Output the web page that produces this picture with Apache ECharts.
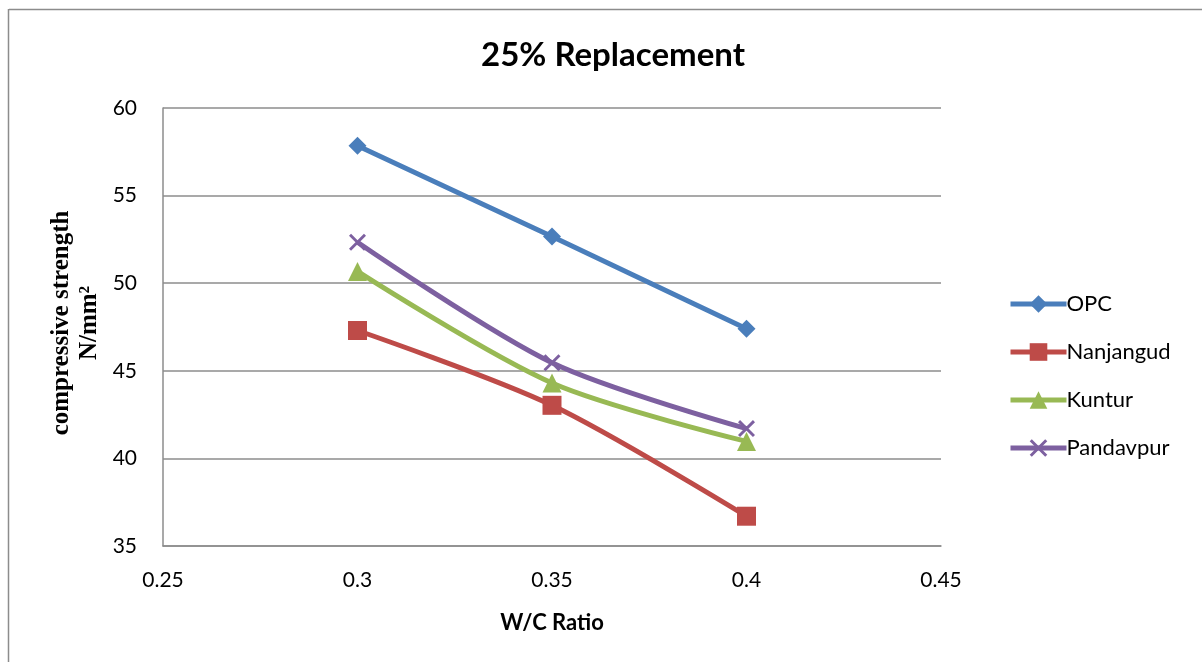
<!DOCTYPE html>
<html>
<head>
<meta charset="utf-8">
<script src="https://cdn.jsdelivr.net/npm/echarts@6/dist/echarts.min.js"></script>
<style>
  html, body { margin: 0; padding: 0; background: #fff; }
  #chart { width: 1202px; height: 662px; }
</style>
</head>
<body>
<div id="chart"></div>
<script>
// W/C ratios tested
const wcRatio = [0.3, 0.35, 0.4];
// Compressive strength (N/mm²) at 25% replacement
const opc = [57.85, 52.66, 47.4];
const nanjangud = [47.3, 43.03, 36.7];
const kuntur = [50.67, 44.3, 40.97];
const pandavpur = [52.34, 45.46, 41.7];
const seriesNames = ['OPC', 'Nanjangud', 'Kuntur', 'Pandavpur'];
const xTicks = { min: 0.25, max: 0.45, step: 0.05 };
const yTicks = { min: 35, max: 60, step: 5 };

const pairs = vals => wcRatio.map((x, i) => [x, vals[i]]);
const crossPath = 'path://M0,1.2L1.2,0L10,8.8L8.8,10Z M8.8,0L10,1.2L1.2,10L0,8.8Z';

const font = 'Lato, "Open Sans", sans-serif';

function line(name, vals, color, symbol, size) {
  return {
    name, type: 'line', data: pairs(vals), smooth: 0.3,
    symbol, symbolSize: size,
    lineStyle: { color, width: 5 },
    itemStyle: { color },
    z: 3
  };
}

const chart = echarts.init(document.getElementById('chart'));
chart.setOption({
  animation: false,
  backgroundColor: '#fff',
  title: {
    text: '25% Replacement',
    left: 608, top: 34, textAlign: 'center',
    textStyle: { fontFamily: font, fontWeight: 'bold', fontSize: 33, color: '#000' }
  },
  grid: { left: 163, right: 261, top: 108, bottom: 116 },
  xAxis: {
    type: 'value', min: xTicks.min, max: xTicks.max, interval: xTicks.step,
    name: 'W/C Ratio', nameLocation: 'middle', nameGap: 66,
    nameTextStyle: { fontFamily: font, fontWeight: 'bold', fontSize: 22, color: '#000' },
    axisLine: { lineStyle: { color: '#8c8c8c', width: 1.5 } },
    axisTick: { show: false },
    splitLine: { show: false },
    axisLabel: { fontFamily: font, fontSize: 21, color: '#000', margin: 24,
      formatter: v => String(parseFloat(v.toFixed(2))) }
  },
  yAxis: {
    type: 'value', min: yTicks.min, max: yTicks.max, interval: yTicks.step,
    axisLine: { show: true, lineStyle: { color: '#8c8c8c', width: 1.5 } },
    axisTick: { show: false },
    splitLine: { lineStyle: { color: '#8c8c8c', width: 1.5 } },
    axisLabel: { fontFamily: font, fontSize: 21, color: '#000', margin: 26 }
  },
  legend: {
    orient: 'vertical', left: 1003, top: 288, itemGap: 26,
    itemWidth: 56, itemHeight: 22,
    data: seriesNames,
    lineStyle: { width: 5 },
    textStyle: { fontFamily: font, fontSize: 22, color: '#000', padding: [0, 0, 0, -5] }
  },
  graphic: [
    { type: 'line', shape: { x1: 9, y1: 9.5, x2: 1202, y2: 9.5 }, style: { stroke: '#8c8c8c', lineWidth: 1.5 } },
    { type: 'line', shape: { x1: 8.5, y1: 9, x2: 8.5, y2: 662 }, style: { stroke: '#8c8c8c', lineWidth: 1.5 } },
    {
      type: 'group', x: 76, y: 323, rotation: Math.PI / 2,
      children: [
        { type: 'text', style: { text: 'compressive strength', x: 0, y: -14, align: 'center', verticalAlign: 'middle',
          font: 'bold 25px "Liberation Serif", "DejaVu Serif", serif', fill: '#000' } },
        { type: 'text', style: { text: 'N/mm²', x: 0, y: 14, align: 'center', verticalAlign: 'middle',
          font: 'bold 25px "Liberation Serif", "DejaVu Serif", serif', fill: '#000' } }
      ]
    }
  ],
  series: [
    line('OPC', opc, '#4a7ebb', 'diamond', 18),
    line('Nanjangud', nanjangud, '#be4b48', 'rect', 19),
    line('Kuntur', kuntur, '#98b954', 'triangle', 19),
    line('Pandavpur', pandavpur, '#7d60a0', crossPath, 17)
  ]
});
</script>
</body>
</html>
